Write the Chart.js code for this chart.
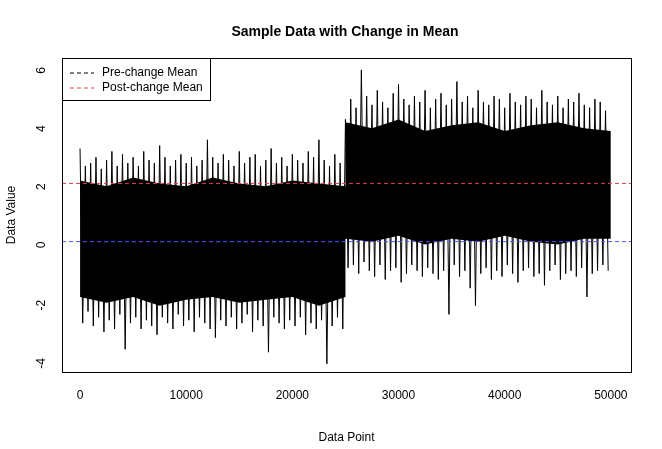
<!DOCTYPE html>
<html>
<head>
<script src="https://cdn.jsdelivr.net/npm/chart.js@4"></script>
<style>body{margin:0;background:#fff}#wrap{width:662px;height:449px}</style>
</head>
<body>
<div id="wrap"><canvas id="myChart"></canvas></div>
<script>
// extreme values per bin of 500 points
const binWidth = 500
const binHigh = [3.2,2.6,2.7,2.9,2.5,2.8,3.1,2.6,3.0,2.7,2.9,2.6,3.1,2.8,2.7,3.3,2.9,2.6,2.8,3.0,2.7,2.9,2.6,2.8,3.5,2.9,2.7,3.0,2.8,2.6,3.1,2.7,2.9,3.0,2.6,2.8,3.2,2.7,2.9,2.6,3.0,2.8,2.7,3.1,2.9,3.5,2.8,2.6,3.0,2.7,
  4.2,4.9,4.6,5.9,5.0,4.7,5.2,4.8,4.6,5.1,5.4,4.9,4.7,5.0,4.8,5.2,4.6,4.9,5.1,4.7,4.9,5.5,4.8,5.0,4.6,5.2,4.8,4.7,5.0,4.9,4.6,5.1,4.8,4.7,5.0,4.9,4.6,5.2,4.8,4.7,5.0,4.6,4.9,4.8,5.1,4.7,4.6,4.9,4.8,4.5]
const binLow = [-2.8,-2.4,-2.9,-2.6,-3.1,-2.7,-3.0,-2.5,-3.7,-2.8,-2.6,-3.0,-2.7,-2.9,-3.2,-2.6,-2.8,-3.0,-2.5,-2.9,-2.7,-3.1,-2.6,-2.8,-3.0,-3.3,-2.7,-2.9,-2.6,-3.0,-2.8,-2.5,-3.1,-2.7,-2.9,-3.8,-2.6,-2.8,-3.0,-2.7,-2.9,-2.6,-3.2,-2.8,-3.0,-2.7,-4.2,-2.9,-2.6,-3.0,
  -0.9,-0.8,-1.1,-0.7,-1.0,-1.2,-0.8,-1.3,-1.0,-0.9,-1.4,-1.1,-0.8,-1.0,-1.2,-0.9,-1.1,-1.3,-1.0,-2.5,-0.8,-1.2,-1.0,-1.6,-2.2,-1.1,-0.9,-1.3,-1.0,-1.2,-0.8,-1.1,-1.4,-1.0,-0.9,-1.2,-1.1,-1.5,-1.0,-0.8,-1.3,-1.1,-1.0,-1.2,-0.9,-1.9,-1.1,-1.0,-0.8,-1.0]
// dense core of the band
const coreX = [0,2500,5000,7500,10000,12500,15000,17500,20000,22500,25000,25001,27500,30000,32500,35000,37500,40000,42500,45000,47500,50000]
const coreHigh = [2.1,1.9,2.2,2.0,1.9,2.2,2.0,1.9,2.1,2.0,1.9,4.1,3.9,4.2,3.8,4.0,4.1,3.8,4.0,4.1,3.9,3.8]
const coreLow = [-1.9,-2.1,-1.9,-2.2,-2.0,-1.9,-2.1,-2.0,-1.9,-2.2,-1.9,0.1,0.0,0.2,-0.1,0.1,0.0,0.2,0.0,-0.1,0.1,0.1]
const preMean = 0
const postMean = 2
const xTicks = [0,10000,20000,30000,40000,50000]
const yTicks = [-4,-2,0,2,4,6]

const zig = []
binHigh.forEach((h, i) => {
  zig.push({x: i * binWidth, y: h})
  zig.push({x: i * binWidth + binWidth / 2, y: binLow[i]})
})

const legendPlugin = {
  id: 'rlegend',
  afterDraw(c) {
    const ctx = c.ctx
    ctx.save()
    ctx.font = 'bold 14px "Liberation Sans", Arial, sans-serif'
    ctx.fillStyle = '#000'
    ctx.textAlign = 'center'
    ctx.fillText('Sample Data with Change in Mean', 345, 36)
    ctx.strokeStyle = '#000'; ctx.lineWidth = 1
    ctx.fillStyle = '#fff'
    ctx.fillRect(62.5, 58.5, 148, 42); ctx.strokeRect(62.5, 58.5, 148, 42)
    ctx.font = '12px "Liberation Sans", Arial, sans-serif'
    ctx.textAlign = 'left'; ctx.textBaseline = 'middle'
    const items = [['Pre-change Mean', '#000'], ['Post-change Mean', '#d44']]
    items.forEach((it, k) => {
      const y = 73 + k * 15
      ctx.setLineDash([4, 3]); ctx.strokeStyle = it[1]
      ctx.beginPath(); ctx.moveTo(70, y); ctx.lineTo(94, y); ctx.stroke()
      ctx.setLineDash([]); ctx.fillStyle = '#000'
      ctx.fillText(it[0], 102, y)
    })
    const a = c.chartArea
    ctx.strokeStyle = '#000'
    ctx.strokeRect(Math.round(a.left) + 0.5, Math.round(a.top) + 0.5, Math.round(a.right - a.left), Math.round(a.bottom - a.top))
    ctx.restore()
  }
}

new Chart(document.getElementById('myChart'), {
  type: 'line',
  data: {
    datasets: [
      {data: coreX.map((x, i) => ({x, y: coreHigh[i]})), borderWidth: 0, pointRadius: 0, fill: false, order: 3},
      {data: coreX.map((x, i) => ({x, y: coreLow[i]})), borderWidth: 0, pointRadius: 0, fill: '-1', backgroundColor: '#000', order: 3},
      {data: zig, borderColor: '#000', borderWidth: 1, pointRadius: 0, order: 2},
      {data: [{x: -1700, y: preMean}, {x: 51900, y: preMean}], borderColor: '#5050ff', borderDash: [4, 3], borderWidth: 1, pointRadius: 0, order: 0},
      {data: [{x: -1700, y: postMean}, {x: 51900, y: postMean}], borderColor: '#e04040', borderDash: [4, 3], borderWidth: 1, pointRadius: 0, order: 0}
    ]
  },
  options: {
    responsive: true, maintainAspectRatio: false, animation: false,
    layout: {padding: {top: 58, right: 31}},
    plugins: {legend: {display: false}, tooltip: {enabled: false}},
    scales: {
      x: {
        type: 'linear', min: -1700, max: 51900,
        afterBuildTicks: s => { s.ticks = xTicks.map(v => ({value: v})) },
        afterFit: s => { s.height = 77 },
        grid: {display: false, drawTicks: true, tickLength: 6, tickColor: '#000'},
        border: {display: false},
        ticks: {color: '#000', font: {size: 12, family: 'Liberation Sans'}, padding: 10, maxRotation: 0, callback: v => String(v)},
        title: {display: true, text: 'Data Point', color: '#000', font: {size: 12, family: 'Liberation Sans'}, padding: {top: 14}}
      },
      y: {
        min: -4.48, max: 6.31,
        afterBuildTicks: s => { s.ticks = yTicks.map(v => ({value: v})) },
        afterFit: s => { s.width = 62 },
        grid: {display: false, tickLength: 6, tickColor: '#000'},
        border: {display: false},
        ticks: {color: '#000', font: {size: 12, family: 'Liberation Sans'}, minRotation: 90, maxRotation: 90, padding: 14},
        title: {display: true, text: 'Data Value', color: '#000', font: {size: 12, family: 'Liberation Sans'}, padding: {bottom: 0}}
      }
    }
  },
  plugins: [legendPlugin]
})
</script>
</body>
</html>
